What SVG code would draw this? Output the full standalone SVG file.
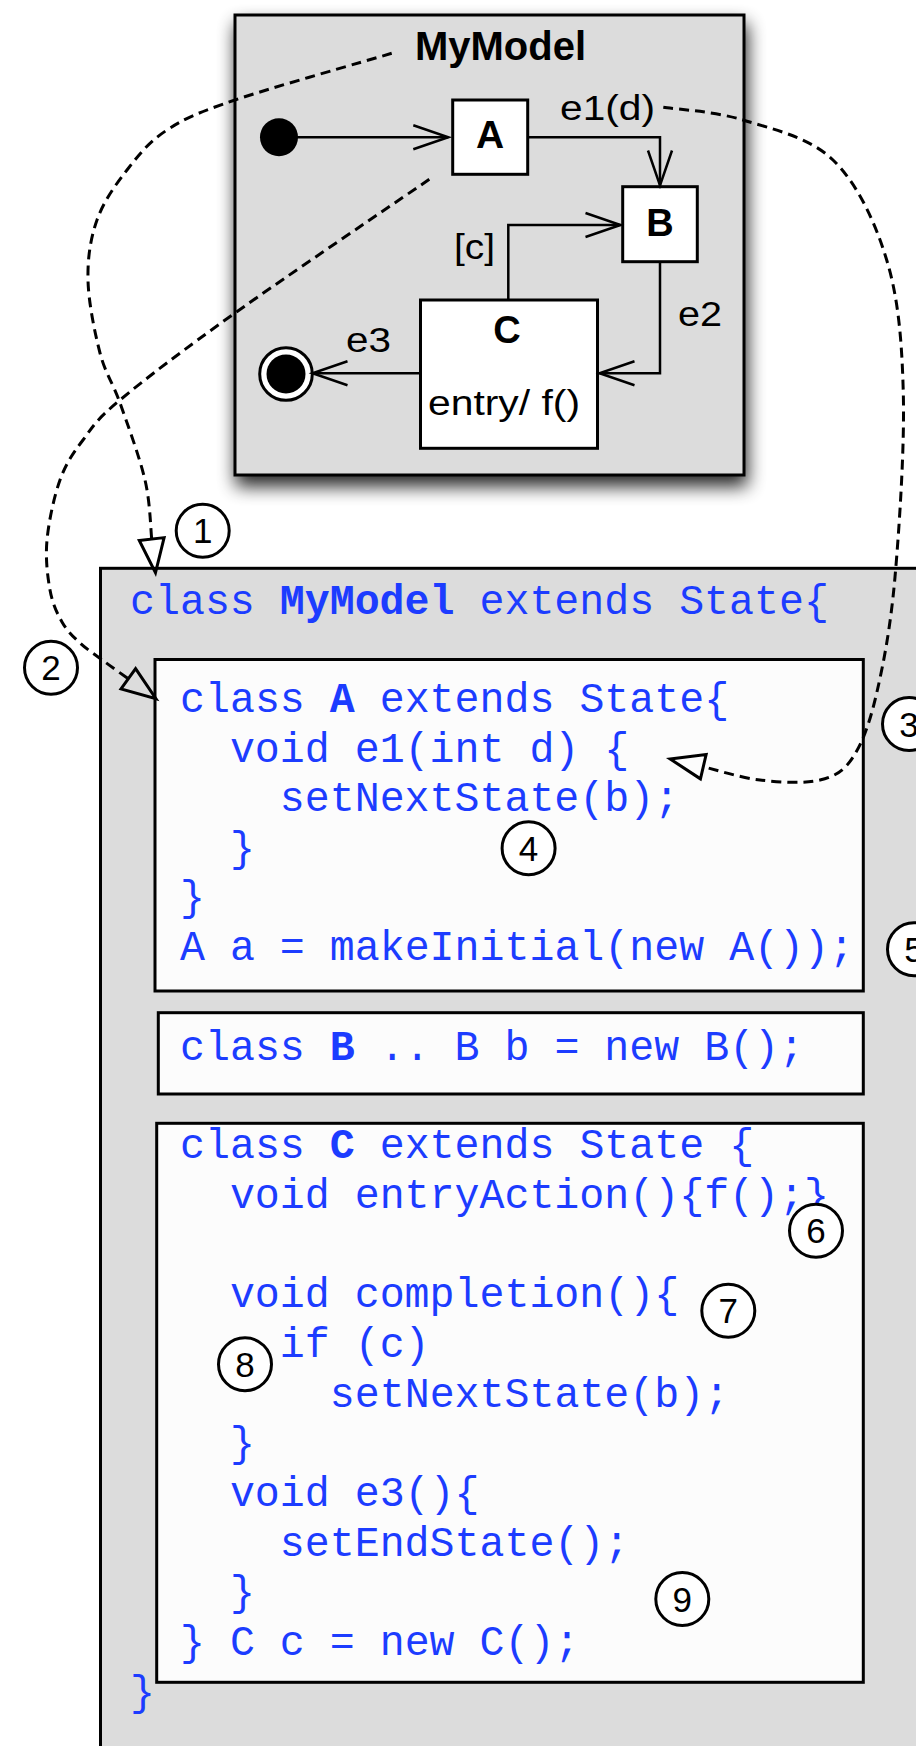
<svg xmlns="http://www.w3.org/2000/svg" width="916" height="1746" viewBox="0 0 916 1746">
  <style>
    .frame { fill: #dcdcdc; stroke: #000; stroke-width: 3; }
    .state { fill: #fff; stroke: #000; stroke-width: 3; }
    .codebox { fill: #fcfcfc; stroke: #000; stroke-width: 3; }
    .code { font-family: "Liberation Mono", "Courier New", monospace; font-size: 41.6px; fill: #1c3cff; }
    .title { font-family: "Liberation Sans", Arial, sans-serif; font-weight: bold; text-anchor: middle; fill: #000; }
    .lbl { font-family: "Liberation Sans", Arial, sans-serif; font-size: 35px; fill: #000; }
    .num { font-family: "Liberation Sans", Arial, sans-serif; font-size: 35px; text-anchor: middle; fill: #000; }
    .callout { fill: #fff; stroke: #000; stroke-width: 3; }
    .trans { fill: none; stroke: #000; stroke-width: 2.5; marker-end: url(#open); }
    .trace { fill: none; stroke: #000; stroke-width: 3; stroke-dasharray: 10 6; marker-end: url(#tri); }
  </style>
  <defs>
    <filter id="shadow" x="-20%" y="-20%" width="140%" height="140%">
      <feGaussianBlur in="SourceAlpha" stdDeviation="9"/>
      <feOffset dx="2" dy="10"/>
      <feComponentTransfer><feFuncA type="linear" slope="0.85"/></feComponentTransfer>
      <feMerge><feMergeNode/><feMergeNode in="SourceGraphic"/></feMerge>
    </filter>
    <!-- open arrowhead for state transitions -->
    <marker id="open" markerUnits="userSpaceOnUse" markerWidth="40" markerHeight="30" refX="35" refY="12" orient="auto" overflow="visible">
      <path d="M0,0 L35,12 L0,24" fill="none" stroke="#000" stroke-width="2.5"/>
    </marker>
    <!-- hollow triangle for the mapping traces -->
    <marker id="tri" markerUnits="userSpaceOnUse" markerWidth="40" markerHeight="30" refX="0" refY="12.5" orient="auto" overflow="visible">
      <path d="M0,0 L34,12.5 L0,25 Z" fill="none" stroke="#000" stroke-width="3"/>
    </marker>
  </defs>

  <!-- state machine -->
  <g id="mymodel">
    <rect class="frame" x="235" y="15" width="509" height="460" filter="url(#shadow)"/>
    <text class="title" x="500.5" y="60" font-size="40">MyModel</text>
  </g>
  <g id="initial">
    <circle cx="279" cy="137.3" r="19" fill="#000"/>
  </g>
  <g id="state-a">
    <rect class="state" x="452.7" y="100" width="75" height="74.3"/>
    <text class="title" x="490.2" y="148.3" font-size="39">A</text>
  </g>
  <g id="state-b">
    <rect class="state" x="622.7" y="186.7" width="74.6" height="75"/>
    <text class="title" x="660" y="235.5" font-size="38">B</text>
  </g>
  <g id="state-c">
    <rect class="state" x="420.5" y="300" width="177" height="148.3"/>
    <text class="title" x="507" y="343" font-size="38">C</text>
    <text class="lbl" x="428" y="415" textLength="152" lengthAdjust="spacingAndGlyphs">entry/ f()</text>
  </g>
  <g id="final">
    <circle cx="286" cy="374" r="26.3" fill="#fff" stroke="#000" stroke-width="3"/>
    <circle cx="286" cy="374" r="19.5" fill="#000"/>
  </g>

  <!-- generated code -->
  <g id="class-mymodel">
    <rect class="frame" x="100.5" y="568.3" width="900" height="1300"/>
    <text class="code" x="130" y="614">class <tspan font-weight="bold">MyModel</tspan> extends State{</text>
    <text class="code" x="130" y="1704.7">}</text>
  </g>
  <g id="class-a">
    <rect class="codebox" x="155" y="659.5" width="708.3" height="331.5"/>
    <text class="code" x="180" y="712">class <tspan font-weight="bold">A</tspan> extends State{</text>
    <text class="code" x="229.9" y="761.5">void e1(int d) {</text>
    <text class="code" x="279.8" y="811">setNextState(b);</text>
    <text class="code" x="229.9" y="860.5">}</text>
    <text class="code" x="180" y="910">}</text>
    <text class="code" x="180" y="959.5">A a = makeInitial(new A());</text>
  </g>
  <g id="class-b">
    <rect class="codebox" x="158.3" y="1012.7" width="705" height="81.3"/>
    <text class="code" x="180" y="1060">class <tspan font-weight="bold">B</tspan> .. B b = new B();</text>
  </g>
  <g id="class-c">
    <rect class="codebox" x="156.7" y="1123.3" width="706.6" height="559"/>
    <text class="code" x="180" y="1158.3">class <tspan font-weight="bold">C</tspan> extends State {</text>
    <text class="code" x="229.9" y="1208">void entryAction(){f();}</text>
    <text class="code" x="229.9" y="1307.3">void completion(){</text>
    <text class="code" x="279.8" y="1357">if (c)</text>
    <text class="code" x="329.8" y="1406.6">setNextState(b);</text>
    <text class="code" x="229.9" y="1456.3">}</text>
    <text class="code" x="229.9" y="1506">void e3(){</text>
    <text class="code" x="279.8" y="1555.7">setEndState();</text>
    <text class="code" x="229.9" y="1605.3">}</text>
    <text class="code" x="180" y="1655">} C c = new C();</text>
  </g>

  <!-- transitions and mapping traces -->
  <g id="connectors">
    <path class="trans" d="M279,137.3 H448.3"/>
    <path class="trans" d="M527.7,137.3 H660 V185.5"/>
    <text class="lbl" x="560" y="120" textLength="95" lengthAdjust="spacingAndGlyphs">e1(d)</text>
    <path class="trans" d="M508.3,300 V225 H620.5"/>
    <text class="lbl" x="454" y="259" textLength="41" lengthAdjust="spacingAndGlyphs">[c]</text>
    <path class="trans" d="M660,261.7 V373.3 H599.5"/>
    <text class="lbl" x="678" y="326" textLength="44" lengthAdjust="spacingAndGlyphs">e2</text>
    <path class="trans" d="M420.5,373.3 H312.5"/>
    <text class="lbl" x="346" y="352" textLength="45" lengthAdjust="spacingAndGlyphs">e3</text>

    <path class="trace" d="M391.7,53.3 C365.6,61.1 272.5,87.2 235,100 C197.5,112.8 185,118.3 167,130 C149,141.7 138.7,155 127,170 C115.3,185 103.5,201.7 97,220 C90.5,238.3 87.5,257.8 88,280 C88.5,302.2 94.7,332.5 100,353 C105.3,373.5 112.5,381.8 120,403 C127.5,424.2 139.7,457.3 145,480 C150.3,502.7 150.6,529.2 151.7,539"/>
    <path class="trace" d="M429.3,179.3 C396.9,201.6 286.6,276.2 235,313 C183.45,349.8 145.3,378.8 120,400 C94.7,421.2 93,426.7 83,440 C73,453.3 66,463.3 60,480 C54,496.7 48.7,521.7 47,540 C45.3,558.3 47.5,576.3 50,590 C52.5,603.7 57,613.2 62,622 C67,630.8 72.8,636.3 80,643 C87.2,649.7 97,656 105,662 C113,668 124.4,676 128.3,678.8"/>
    <path class="trace" d="M663.3,107.3 C676.6,109.4 714.7,111.2 743,120 C771.3,128.8 809,136.7 833,160 C857,183.3 875,221.2 886.7,260 C898.4,298.8 901.9,340.2 903.3,393 C904.7,445.8 899.4,527 895,577 C890.6,627 883.65,663 876.7,693 C869.75,723 862.75,742.2 853.3,756.7 C843.85,771.2 835.55,776.1 820,780 C804.45,783.9 779.45,782.2 760,780 C740.55,777.8 712.75,768.9 703.3,766.7"/>
  </g>

  <!-- numbered callouts -->
  <g id="n1"><circle class="callout" cx="202.7" cy="530.7" r="26.5"/><text class="num" x="202.7" y="543.2">1</text></g>
  <g id="n2"><circle class="callout" cx="51" cy="667.7" r="26.5"/><text class="num" x="51" y="680.2">2</text></g>
  <g id="n3"><circle class="callout" cx="909" cy="724" r="26.5"/><text class="num" x="909" y="736.5">3</text></g>
  <g id="n4"><circle class="callout" cx="528.6" cy="848.3" r="26.5"/><text class="num" x="528.6" y="860.8">4</text></g>
  <g id="n5"><circle class="callout" cx="914" cy="949.3" r="26.5"/><text class="num" x="914" y="961.8">5</text></g>
  <g id="n6"><circle class="callout" cx="816" cy="1230.7" r="26.5"/><text class="num" x="816" y="1243.2">6</text></g>
  <g id="n7"><circle class="callout" cx="728.3" cy="1310.7" r="26.5"/><text class="num" x="728.3" y="1323.2">7</text></g>
  <g id="n8"><circle class="callout" cx="245" cy="1364.3" r="26.5"/><text class="num" x="245" y="1376.8">8</text></g>
  <g id="n9"><circle class="callout" cx="682.3" cy="1599" r="26.5"/><text class="num" x="682.3" y="1611.5">9</text></g>
</svg>
